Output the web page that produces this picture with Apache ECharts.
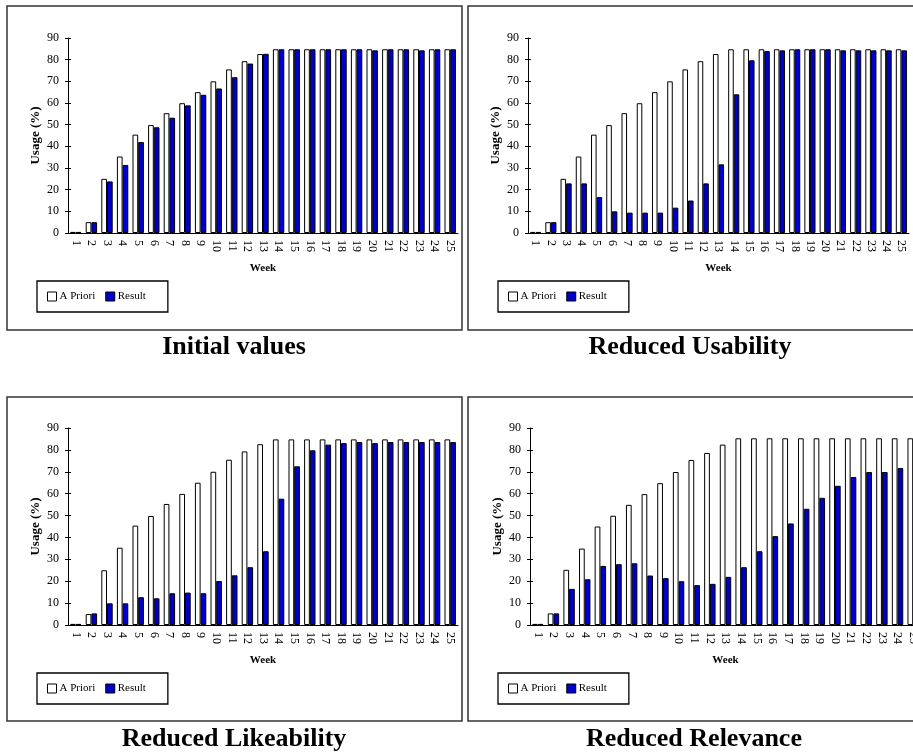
<!DOCTYPE html>
<html>
<head>
<meta charset="utf-8">
<script src="https://cdn.jsdelivr.net/npm/echarts@6/dist/echarts.min.js"></script>
<style>
  html, body { margin: 0; padding: 0; background: #fff; }
  #chart { width: 913px; height: 753px; }
</style>
</head>
<body>
<div id="chart"></div>
<script>
// week categories
const weeks = ['1', '2', '3', '4', '5', '6', '7', '8', '9', '10', '11', '12', '13',
  '14', '15', '16', '17', '18', '19', '20', '21', '22', '23', '24', '25'];
const yTicks = [0, 90, 10]; // min, max, interval

// A Priori usage (%)
const aPriori = [0.5, 5, 25, 35.3, 45.4, 49.8, 55.3, 59.9, 65, 70, 75.5, 79.3, 82.6,
  84.8, 84.8, 84.8, 84.8, 84.8, 84.8, 84.8, 84.8, 84.8, 84.8, 84.8, 84.8];
const aPrioriRelevance = [0.5, 5.3, 25.2, 34.9, 45, 49.9, 54.9, 59.8, 64.8, 69.9, 75.4, 78.6, 82.4,
  85.3, 85.3, 85.3, 85.3, 85.3, 85.3, 85.3, 85.3, 85.3, 85.3, 85.3, 85.3];

// Result usage (%)
const resultInitial = [0.5, 5, 23.8, 31.4, 42, 48.8, 53.2, 58.9, 63.8, 66.7, 71.9, 78.2, 82.7,
  84.8, 84.8, 84.8, 84.8, 84.8, 84.8, 84.3, 84.8, 84.8, 84.3, 84.8, 84.8];
const resultUsability = [0.5, 5, 22.9, 22.9, 16.6, 10, 9.4, 9.4, 9.4, 11.7, 15, 22.9, 31.7,
  64, 79.7, 84, 84.3, 84.8, 84.8, 84.8, 84.3, 84.3, 84.3, 84.3, 84.3];
const resultLikeability = [0.5, 5.3, 9.9, 9.9, 12.7, 12.2, 14.5, 14.8, 14.5, 20.1, 22.7, 26.4, 33.7,
  57.7, 72.5, 79.8, 82.4, 83.1, 83.6, 83.1, 83.6, 83.6, 83.6, 83.6, 83.6];
const resultRelevance = [0.5, 5.3, 16.5, 20.9, 27, 27.8, 28.2, 22.6, 21.4, 20, 18.2, 18.8, 22,
  26.4, 33.7, 40.6, 46.4, 53.1, 58.1, 63.6, 67.6, 69.9, 69.9, 71.7, 71.8];

const titles = ['Initial values', 'Reduced Usability', 'Reduced Likeability', 'Reduced Relevance'];
const seriesNames = ['A Priori', 'Result'];

const FONT = '"Liberation Serif", "Times New Roman", serif';

// panel layout (box, plot grid, legend, title)
const panels = [
  { box: [7, 6, 455, 324], grid: [68, 38, 390, 195], legend: [37, 281], title: [234, 347],
    apriori: aPriori, result: resultInitial },
  { box: [468, 6, 460, 324], grid: [528, 38, 381, 195], legend: [498, 281], title: [690, 347],
    apriori: aPriori, result: resultUsability },
  { box: [7, 397, 455, 324], grid: [68, 428, 390, 197], legend: [37, 673], title: [234, 739],
    apriori: aPriori, result: resultLikeability },
  { box: [468, 397, 460, 324], grid: [530, 428, 391, 197], legend: [498, 673], title: [694, 739],
    apriori: aPrioriRelevance, result: resultRelevance }
];

const chart = echarts.init(document.getElementById('chart'));

const grid = [], xAxis = [], yAxis = [], series = [], legend = [], graphic = [];

panels.forEach(function (p, i) {
  grid.push({
    left: p.grid[0], top: p.grid[1], width: p.grid[2], height: p.grid[3],
    containLabel: false, outerBoundsMode: 'none'
  });

  // main x axis (labels + outward ticks)
  xAxis.push({
    type: 'category', gridIndex: i, data: weeks,
    name: 'Week', nameLocation: 'middle', nameGap: 30,
    nameTextStyle: { fontFamily: FONT, fontWeight: 'bold', fontSize: 11, color: '#000' },
    axisLine: { lineStyle: { color: '#000', width: 1 } },
    axisTick: { alignWithLabel: false, length: 4, lineStyle: { color: '#000' } },
    axisLabel: { rotate: -90, interval: 0, margin: 7, fontFamily: FONT, fontSize: 12, color: '#000' },
    splitLine: { show: false }
  });
  // main y axis
  yAxis.push({
    type: 'value', gridIndex: i, min: yTicks[0], max: yTicks[1], interval: yTicks[2],
    name: 'Usage (%)', nameLocation: 'middle', nameGap: 26, nameRotate: 90,
    nameTextStyle: { fontFamily: FONT, fontWeight: 'bold', fontSize: 13, color: '#000' },
    axisLine: { show: true, lineStyle: { color: '#000', width: 1 } },
    axisTick: { show: true, length: 3, lineStyle: { color: '#000' } },
    axisLabel: { margin: 9, fontFamily: FONT, fontSize: 12, color: '#000' },
    splitLine: { show: false }
  });

  series.push({
    name: seriesNames[0], type: 'bar', xAxisIndex: i, yAxisIndex: i,
    data: p.apriori, barGap: '0%', barCategoryGap: '27%',
    itemStyle: { color: '#ffffff', borderColor: '#000', borderWidth: 1 },
    silent: true
  });
  series.push({
    name: seriesNames[1], type: 'bar', xAxisIndex: i, yAxisIndex: i,
    data: p.result, barGap: '0%', barCategoryGap: '27%',
    itemStyle: { color: '#0000cc', borderColor: '#000', borderWidth: 1 },
    silent: true
  });

  legend.push({
    left: p.legend[0], top: p.legend[1],
    data: seriesNames, icon: 'rect', itemWidth: 9, itemHeight: 9, itemGap: 10,
    selectedMode: false, borderColor: '#000', borderWidth: 1.3,
    padding: [10, 22, 10, 10],
    itemStyle: { borderColor: '#000', borderWidth: 1 },
    textStyle: { fontFamily: FONT, fontSize: 11, color: '#000', padding: [3, 0, 0, -2] }
  });

  graphic.push({
    type: 'rect', z: -1, silent: true,
    shape: { x: p.box[0], y: p.box[1], width: p.box[2], height: p.box[3] },
    style: { fill: 'none', stroke: '#333', lineWidth: 1.5 }
  });
  graphic.push({
    type: 'text', silent: true, x: p.title[0], y: p.title[1],
    style: {
      text: titles[i], fill: '#000', align: 'center', verticalAlign: 'middle',
      font: 'bold 26px ' + FONT
    }
  });
});

// overlay axes so that ticks cross the axis lines (inside part)
panels.forEach(function (p, i) {
  xAxis.push({
    type: 'category', gridIndex: i, data: weeks, position: 'bottom',
    axisLine: { show: false },
    axisTick: { inside: true, length: 3, lineStyle: { color: '#000' } },
    axisLabel: { show: false }, splitLine: { show: false }
  });
  yAxis.push({
    type: 'value', gridIndex: i, min: yTicks[0], max: yTicks[1], interval: yTicks[2], position: 'left',
    axisLine: { show: false },
    axisTick: { show: true, inside: true, length: 3, lineStyle: { color: '#000' } },
    axisLabel: { show: false }, splitLine: { show: false }
  });
});

chart.setOption({
  animation: false,
  backgroundColor: '#fff',
  grid: grid,
  xAxis: xAxis,
  yAxis: yAxis,
  legend: legend,
  series: series,
  graphic: graphic
});

window.addEventListener('resize', function () {
  chart.resize();
});
</script>
</body>
</html>
